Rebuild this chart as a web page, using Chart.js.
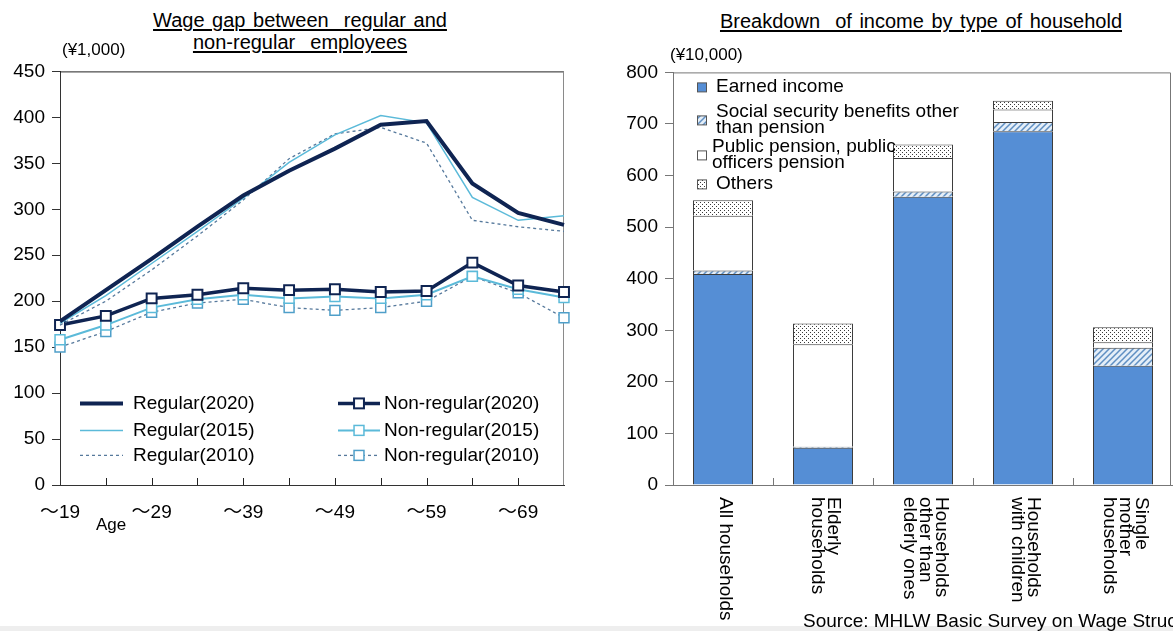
<!DOCTYPE html>
<html>
<head>
<meta charset="utf-8">
<script src="https://cdn.jsdelivr.net/npm/chart.js@4/dist/chart.umd.min.js"></script>
<style>
  html, body { margin: 0; padding: 0; }
  body {
    width: 1173px; height: 631px; position: relative; overflow: hidden;
    background: #fff; color: #000;
    font-family: "Liberation Sans", Arial, "Noto Sans CJK JP", sans-serif;
  }
  .txt { position: absolute; white-space: pre; z-index: 2; }
  .title { text-align: center; font-size: 20px; line-height: 22px; word-spacing: 2px; }
  .title span { text-decoration: underline; text-underline-offset: 2px; }
  .box { position: absolute; }
  #band { position: absolute; left: 0; top: 626px; width: 1173px; height: 5px; background: #eeeeee; }
</style>
</head>
<body>
<div class="txt title" style="left:150px; top:9px; width:300px;"><span>Wage gap between  regular and</span><br><span>non-regular  employees</span></div>
<div class="txt title" style="left:700px; top:10px; width:442px;"><span>Breakdown  of income by type of household</span></div>
<div class="txt" style="left:62px; top:40px; font-size:17px;">(¥1,000)</div>
<div class="txt" style="left:670px; top:45px; font-size:17px;">(¥10,000)</div>
<div class="txt" style="left:96px; top:515px; font-size:17px;">Age</div>
<div class="txt" style="left:803px; top:610px; font-size:19px;">Source: MHLW Basic Survey on Wage Structure</div>
<div id="band"></div>

<div class="box" style="left:0; top:53px;"><canvas id="wage" width="580" height="500"></canvas></div>
<div class="box" style="left:600px; top:54px;"><canvas id="income" width="573" height="566"></canvas></div>

<script>
// ---- Wage by age group (¥1,000) ----
const ageGroups = ['～19', '20～24', '25～29', '30～34', '35～39', '40～44', '45～49', '50～54', '55～59', '60～64', '65～69', '70～'];
const ageTickLabels = ['～19', '', '～29', '', '～39', '', '～49', '', '～59', '', '～69', ''];
const regular2020 = [178, 212, 246, 281, 315, 342, 366, 392, 396, 328, 296, 283];
const regular2015 = [176, 206, 241, 276, 312, 351, 381, 402, 394, 313, 288, 293];
const regular2010 = [174, 200, 234, 271, 310, 355, 382, 389, 372, 288, 281, 276];
const nonRegular2020 = [174, 184, 203, 207, 214, 212, 213, 210, 211, 242, 217, 210];
const nonRegular2015 = [158, 174, 193, 202, 207, 203, 205, 203, 207, 227, 213, 204];
const nonRegular2010 = [150, 167, 188, 198, 202, 193, 190, 193, 200, 227, 209, 182];
const wageTicks = [0, 50, 100, 150, 200, 250, 300, 350, 400, 450];

// ---- Income by household type (¥10,000) ----
const households = [['All households'], ['Elderly', 'households'], ['Households', 'other than', 'elderly ones'], ['Households', 'with children'], ['Single', 'mother', 'households']];
const earnedIncome = [409, 72, 559, 686, 231];
const socialSecurity = [7, 2, 10, 18, 35];
const publicPension = [106, 199, 65, 24, 11];
const otherIncome = [30, 40, 26, 17, 29];
const incomeLegend = [['Earned income'], ['Social security benefits other', 'than pension'], ['Public pension, public', 'officers pension'], ['Others']];

const FONT = '"Liberation Sans", Arial, "Noto Sans CJK JP", sans-serif';
const NAVY = '#0f2452';
const SKY = '#5bbad9';
const SLATE = '#56799c';

// fill patterns for the stacked bars
function makePattern(size, draw) {
  const c = document.createElement('canvas');
  c.width = size; c.height = size;
  const g = c.getContext('2d');
  draw(g, size);
  return g.createPattern(c, 'repeat');
}
const hatch = makePattern(6, (g, s) => {
  g.fillStyle = '#e4eef8'; g.fillRect(0, 0, s, s);
  g.strokeStyle = '#5f8fc2'; g.lineWidth = 1.5;
  g.beginPath();
  g.moveTo(-1, s + 1); g.lineTo(s + 1, -1);
  g.moveTo(-1, 1); g.lineTo(1, -1);
  g.moveTo(s - 1, s + 1); g.lineTo(s + 1, s - 1);
  g.stroke();
});
const dots = makePattern(4, (g, s) => {
  g.fillStyle = '#ffffff'; g.fillRect(0, 0, s, s);
  g.fillStyle = '#3a3a3a';
  g.fillRect(0, 0, 1, 1); g.fillRect(2, 2, 1, 1);
});

// ---------- line chart helpers ----------
const frameLeft = {
  id: 'frameLeft',
  beforeDatasetsDraw(chart) {
    const { ctx, chartArea: a, scales: { x } } = chart;
    ctx.save();
    ctx.lineWidth = 1;
    ctx.strokeStyle = '#222';
    ctx.beginPath(); ctx.moveTo(a.left, a.top + 0.5); ctx.lineTo(a.right, a.top + 0.5); ctx.stroke();
    ctx.strokeStyle = '#8a8a8a';
    ctx.beginPath(); ctx.moveTo(a.right - 0.5, a.top); ctx.lineTo(a.right - 0.5, a.bottom); ctx.stroke();
    // inward tick marks on the category axis
    ctx.strokeStyle = '#222';
    for (let i = 1; i < ageGroups.length - 1; i++) {
      const px = Math.round(x.getPixelForValue(i)) + 0.5;
      ctx.beginPath(); ctx.moveTo(px, a.bottom); ctx.lineTo(px, a.bottom - 7); ctx.stroke();
    }
    ctx.restore();
  }
};

const legendLeft = {
  id: 'legendLeft',
  afterDatasetsDraw(chart) {
    const { ctx, chartArea: a } = chart;
    const rows = [332, 359, 384];
    const cols = [{ x0: 20, x1: 63, tx: 73 }, { x0: 278, x1: 320, tx: 324 }];
    ctx.save();
    ctx.font = '19px ' + FONT;
    ctx.textBaseline = 'middle';
    chart.data.datasets.forEach((ds, i) => {
      const col = cols[i < 3 ? 0 : 1];
      const y = a.top + rows[i % 3];
      ctx.strokeStyle = ds.borderColor;
      ctx.lineWidth = ds.borderWidth;
      ctx.setLineDash(ds.borderDash || []);
      ctx.beginPath(); ctx.moveTo(a.left + col.x0, y); ctx.lineTo(a.left + col.x1, y); ctx.stroke();
      ctx.setLineDash([]);
      if (ds.pointRadius > 0) {
        const cx = (col.x0 + col.x1) / 2 + a.left;
        const h = ds.pointRadius * Math.SQRT1_2;
        ctx.fillStyle = ds.pointBackgroundColor;
        ctx.strokeStyle = ds.pointBorderColor;
        ctx.lineWidth = ds.pointBorderWidth;
        ctx.fillRect(cx - h, y - h, 2 * h, 2 * h);
        ctx.strokeRect(cx - h, y - h, 2 * h, 2 * h);
      }
      ctx.fillStyle = '#000';
      ctx.fillText(ds.label, a.left + col.tx, y);
    });
    ctx.restore();
  }
};

function lineSet(label, data, color, width, dash, marker) {
  return {
    label, data,
    borderColor: color, borderWidth: width, borderDash: dash,
    pointStyle: 'rect',
    pointRadius: marker ? 7 : 0,
    pointHoverRadius: marker ? 7 : 0,
    pointBackgroundColor: '#ffffff',
    pointBorderColor: marker ? marker : color,
    pointBorderWidth: marker ? (width > 3 ? 2 : 1.5) : 0,
    tension: 0, fill: false
  };
}

new Chart(document.getElementById('wage'), {
  type: 'line',
  data: {
    labels: ageGroups,
    datasets: [
      lineSet('Regular(2020)', regular2020, NAVY, 4, [], null),
      lineSet('Regular(2015)', regular2015, SKY, 1.5, [], null),
      lineSet('Regular(2010)', regular2010, SLATE, 1.3, [3, 3], null),
      lineSet('Non-regular(2020)', nonRegular2020, NAVY, 3.5, [], NAVY),
      lineSet('Non-regular(2015)', nonRegular2015, SKY, 2, [], SKY),
      lineSet('Non-regular(2010)', nonRegular2010, SLATE, 1.3, [3, 3], '#4f9fc9')
    ]
  },
  options: {
    responsive: false,
    animation: false,
    devicePixelRatio: 1,
    layout: { padding: { top: 11, right: 13, left: 0, bottom: 0 } },
    plugins: { legend: { display: false }, tooltip: { enabled: false } },
    scales: {
      x: {
        type: 'category',
        grid: { drawOnChartArea: false, drawTicks: false },
        border: { color: '#333', width: 1 },
        ticks: {
          autoSkip: false, maxRotation: 0, minRotation: 0, padding: 16,
          color: '#000', font: { size: 19, family: FONT },
          callback: (v, i) => ageTickLabels[i]
        },
        afterFit: s => { s.height = 68; }
      },
      y: {
        min: 0, max: 450,
        afterBuildTicks: s => { s.ticks = wageTicks.map(v => ({ value: v })); },
        grid: { drawOnChartArea: false, tickLength: 8, color: '#333' },
        border: { color: '#333', width: 1 },
        ticks: { padding: 7, color: '#000', font: { size: 19, family: FONT } },
        afterFit: s => { s.width = 60; }
      }
    }
  },
  plugins: [frameLeft, legendLeft]
});

// ---------- stacked bar helpers ----------
const frameRight = {
  id: 'frameRight',
  beforeDatasetsDraw(chart) {
    const { ctx, chartArea: a, scales: { x } } = chart;
    ctx.save();
    ctx.lineWidth = 1;
    ctx.strokeStyle = '#777';
    ctx.beginPath(); ctx.moveTo(a.left, a.top + 0.5); ctx.lineTo(a.right - 2.5, a.top + 0.5); ctx.lineTo(a.right - 2.5, a.bottom); ctx.stroke();
    // inward tick marks between categories
    for (let i = 1; i < households.length; i++) {
      const px = Math.round((x.getPixelForValue(i - 1) + x.getPixelForValue(i)) / 2) + 0.5;
      ctx.beginPath(); ctx.moveTo(px, a.bottom); ctx.lineTo(px, a.bottom - 7); ctx.stroke();
    }
    ctx.restore();
  },
  afterDraw(chart) {
    // category names, rotated to read downward
    const { ctx, scales: { x } } = chart;
    const lh = 16;
    ctx.save();
    ctx.font = '19px ' + FONT;
    ctx.fillStyle = '#000';
    ctx.textAlign = 'left';
    ctx.textBaseline = 'middle';
    households.forEach((lines, i) => {
      const cx = x.getPixelForValue(i) + 2;
      ctx.save();
      ctx.translate(cx + (lines.length - 1) * lh / 2, x.top + 12);
      ctx.rotate(Math.PI / 2);
      lines.forEach((t, j) => ctx.fillText(t, 0, j * lh));
      ctx.restore();
    });
    ctx.restore();
  }
};

const legendRight = {
  id: 'legendRight',
  afterDatasetsDraw(chart) {
    const { ctx, chartArea: a } = chart;
    const rowTop = [14, 39, 74, 111];
    const lh = 16;
    ctx.save();
    ctx.font = '19px ' + FONT;
    ctx.textBaseline = 'middle';
    chart.data.datasets.forEach((ds, i) => {
      const lines = incomeLegend[i];
      const y = a.top + rowTop[i];
      const my = y + (lines.length - 1) * lh / 2 + 1;
      ctx.fillStyle = ds.backgroundColor;
      ctx.fillRect(a.left + 24.5, my - 4.5, 9, 9);
      ctx.strokeStyle = '#555';
      ctx.lineWidth = 1;
      ctx.strokeRect(a.left + 24.5, my - 4.5, 9, 9);
      ctx.fillStyle = '#000';
      lines.forEach((t, j) => ctx.fillText(t, a.left + (i === 2 ? 39 : 43), y + j * lh));
    });
    ctx.restore();
  }
};

function barSet(label, data, fill) {
  return { label, data, backgroundColor: fill, borderColor: '#3d3d3d', borderWidth: 1, barPercentage: 0.6, categoryPercentage: 1.0 };
}

new Chart(document.getElementById('income'), {
  type: 'bar',
  data: {
    labels: households,
    datasets: [
      barSet(incomeLegend[0].join(' '), earnedIncome, '#558ed5'),
      barSet(incomeLegend[1].join(' '), socialSecurity, hatch),
      barSet(incomeLegend[2].join(' '), publicPension, '#ffffff'),
      barSet(incomeLegend[3].join(' '), otherIncome, dots)
    ]
  },
  options: {
    responsive: false,
    animation: false,
    devicePixelRatio: 1,
    layout: { padding: { top: 12, right: 0, left: 0, bottom: 0 } },
    plugins: { legend: { display: false }, tooltip: { enabled: false } },
    scales: {
      x: {
        stacked: true,
        grid: { display: false },
        border: { color: '#777', width: 1 },
        ticks: { display: false },
        afterFit: s => { s.height = 135; }
      },
      y: {
        stacked: true,
        min: 0, max: 800,
        ticks: { stepSize: 100, padding: 7, color: '#000', font: { size: 19, family: FONT } },
        grid: { drawOnChartArea: false, tickLength: 8, color: '#777' },
        border: { color: '#777', width: 1 },
        afterFit: s => { s.width = 73; }
      }
    }
  },
  plugins: [frameRight, legendRight]
});
</script>
</body>
</html>
